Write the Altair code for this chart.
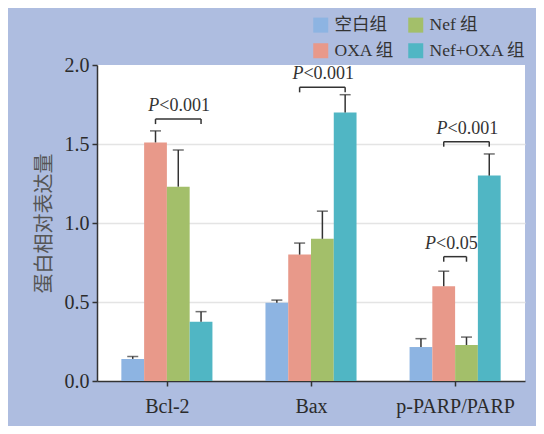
import altair as alt
import pandas as pd

# ---------------- data ----------------
groups = ["Bcl-2", "Bax", "p-PARP/PARP"]
series = ["空白组", "OXA 组", "Nef 组", "Nef+OXA 组"]          # bar order inside each group
series_colors = ["#8DB4E2", "#E8998A", "#A3BF6A", "#50B6C4"]    # same order as series

means_blank = [0.14, 0.495, 0.215]
means_oxa = [1.51, 0.80, 0.60]
means_nef = [1.23, 0.90, 0.228]
means_combo = [0.375, 1.70, 1.30]

err_blank = [0.015, 0.017, 0.053]
err_oxa = [0.073, 0.073, 0.095]
err_nef = [0.232, 0.175, 0.05]
err_combo = [0.064, 0.112, 0.137]

# significance brackets: group index, from-bar index, to-bar index, bracket height, label
sig_group = [0, 1, 2, 2]
sig_from = [1, 1, 1, 1]
sig_to = [3, 3, 3, 2]
sig_y = [1.658, 1.859, 1.515, 0.787]
sig_text = ["<0.001", "<0.001", "<0.001", "<0.05"]

y_ticks = [0.0, 0.5, 1.0, 1.5, 2.0]

# ---------------- tables ----------------
BAR_W = 0.158
means = [means_blank, means_oxa, means_nef, means_combo]
errs = [err_blank, err_oxa, err_nef, err_combo]
rows = []
for si, s in enumerate(series):
    for gi, g in enumerate(groups):
        c = gi + (si - 1.5) * BAR_W
        rows.append(dict(group=g, series=s, x0=c - BAR_W / 2, x1=c + BAR_W / 2, xc=c,
                         mean=means[si][gi], top=means[si][gi] + errs[si][gi]))
df = pd.DataFrame(rows)

brk = []
legs = []
for g, a, b, y, t in zip(sig_group, sig_from, sig_to, sig_y, sig_text):
    xa = g + (a - 1.5) * BAR_W
    xb = g + (b - 1.5) * BAR_W
    brk.append(dict(xa=xa, xb=xb, y=y, mid=(xa + xb) / 2, P="P", rest=t))
    for xx in (xa, xb):
        legs.append(dict(x=xx, y=y, yb=y - 0.032))
bdf = pd.DataFrame(brk)
ldf = pd.DataFrame(legs)

SERIF = "'Liberation Serif', 'Noto Sans CJK SC'"
DARK = "#333333"

xscale = alt.Scale(domain=[-0.485, 2.485], nice=False, zero=False)
yscale = alt.Scale(domain=[0, 2.0], nice=False)

label_expr = "[" + ",".join("'%s'" % g for g in groups) + "][datum.value]"

xaxis = alt.Axis(title=None, values=[0, 1, 2], labelExpr=label_expr, grid=False,
                 labelFont=SERIF, labelFontSize=20, labelColor="#2b2b2b",
                 labelPadding=10, tickSize=5, tickColor=DARK, tickWidth=1.5,
                 domainColor=DARK, domainWidth=1.5)
yaxis = alt.Axis(title="蛋白相对表达量", values=y_ticks, format=".1f",
                 labelFont=SERIF, labelFontSize=20, labelColor="#2b2b2b",
                 labelPadding=3, tickSize=5, tickColor=DARK, tickWidth=1.5,
                 domainColor=DARK, domainWidth=1.5,
                 grid=True, gridColor="#e4e4e4", gridWidth=1.5,
                 gridOpacity=alt.condition("datum.value > 0.1 && datum.value < 1.9",
                                           alt.value(1), alt.value(0)),
                 titleFont="Noto Sans CJK SC", titleFontSize=20, titleColor="#555555",
                 titleFontWeight="normal", titleX=-53, titleY=158,
                 titleAlign="center", titleBaseline="middle", titleAngle=270)


def X(field):
    return alt.X(field, scale=xscale, axis=xaxis, title=None)


def Y(field):
    return alt.Y(field, scale=yscale, axis=yaxis, title="蛋白相对表达量")


bars = alt.Chart(df).mark_bar().encode(
    x=X("x0:Q"),
    x2="x1:Q",
    y=Y("mean:Q"),
    y2=alt.datum(0),
    color=alt.Color("series:N",
                    scale=alt.Scale(domain=series, range=series_colors),
                    legend=alt.Legend(title=None, orient="none", legendX=215, legendY=-49,
                                      columns=2, symbolType="square", symbolSize=225,
                                      symbolStrokeWidth=0, labelFont=SERIF, labelFontSize=17.5,
                                      labelColor=DARK, labelOffset=5, columnPadding=12,
                                      rowPadding=7, padding=0)),
)

err_line = alt.Chart(df).mark_rule(color=DARK, strokeWidth=1.5).encode(
    x=X("xc:Q"), y=Y("mean:Q"), y2="top:Q",
)
err_cap = alt.Chart(df).mark_tick(orient="horizontal", size=11, thickness=1.5, color=DARK).encode(
    x=X("xc:Q"), y=Y("top:Q"),
)

brk_h = alt.Chart(bdf).mark_rule(color=DARK, strokeWidth=1.5).encode(
    x=X("xa:Q"), x2="xb:Q", y=Y("y:Q"),
)
brk_v = alt.Chart(ldf).mark_rule(color=DARK, strokeWidth=1.5).encode(
    x=X("x:Q"), y=Y("yb:Q"), y2="y:Q",
)
txt_p = alt.Chart(bdf).mark_text(font="Liberation Serif", fontSize=18, fontStyle="italic",
                                 color=DARK, align="right", baseline="alphabetic",
                                 dx=-19, dy=-8).encode(
    x=X("mid:Q"), y=Y("y:Q"), text="P:N",
)
txt_r = alt.Chart(bdf).mark_text(font="Liberation Serif", fontSize=18,
                                 color=DARK, align="left", baseline="alphabetic",
                                 dx=-19, dy=-8).encode(
    x=X("mid:Q"), y=Y("y:Q"), text="rest:N",
)

chart = alt.layer(bars, err_line, err_cap, brk_h, brk_v, txt_p, txt_r).properties(
    width=428, height=316,
    padding={"left": 89, "top": 57, "right": 11, "bottom": 45},
    autosize=alt.AutoSizeParams(type="none"),
    background="#AEBDE0",
).configure_view(fill="white", stroke=None)

chart.save("out.html", embed_options={"renderer": "svg", "actions": False})
